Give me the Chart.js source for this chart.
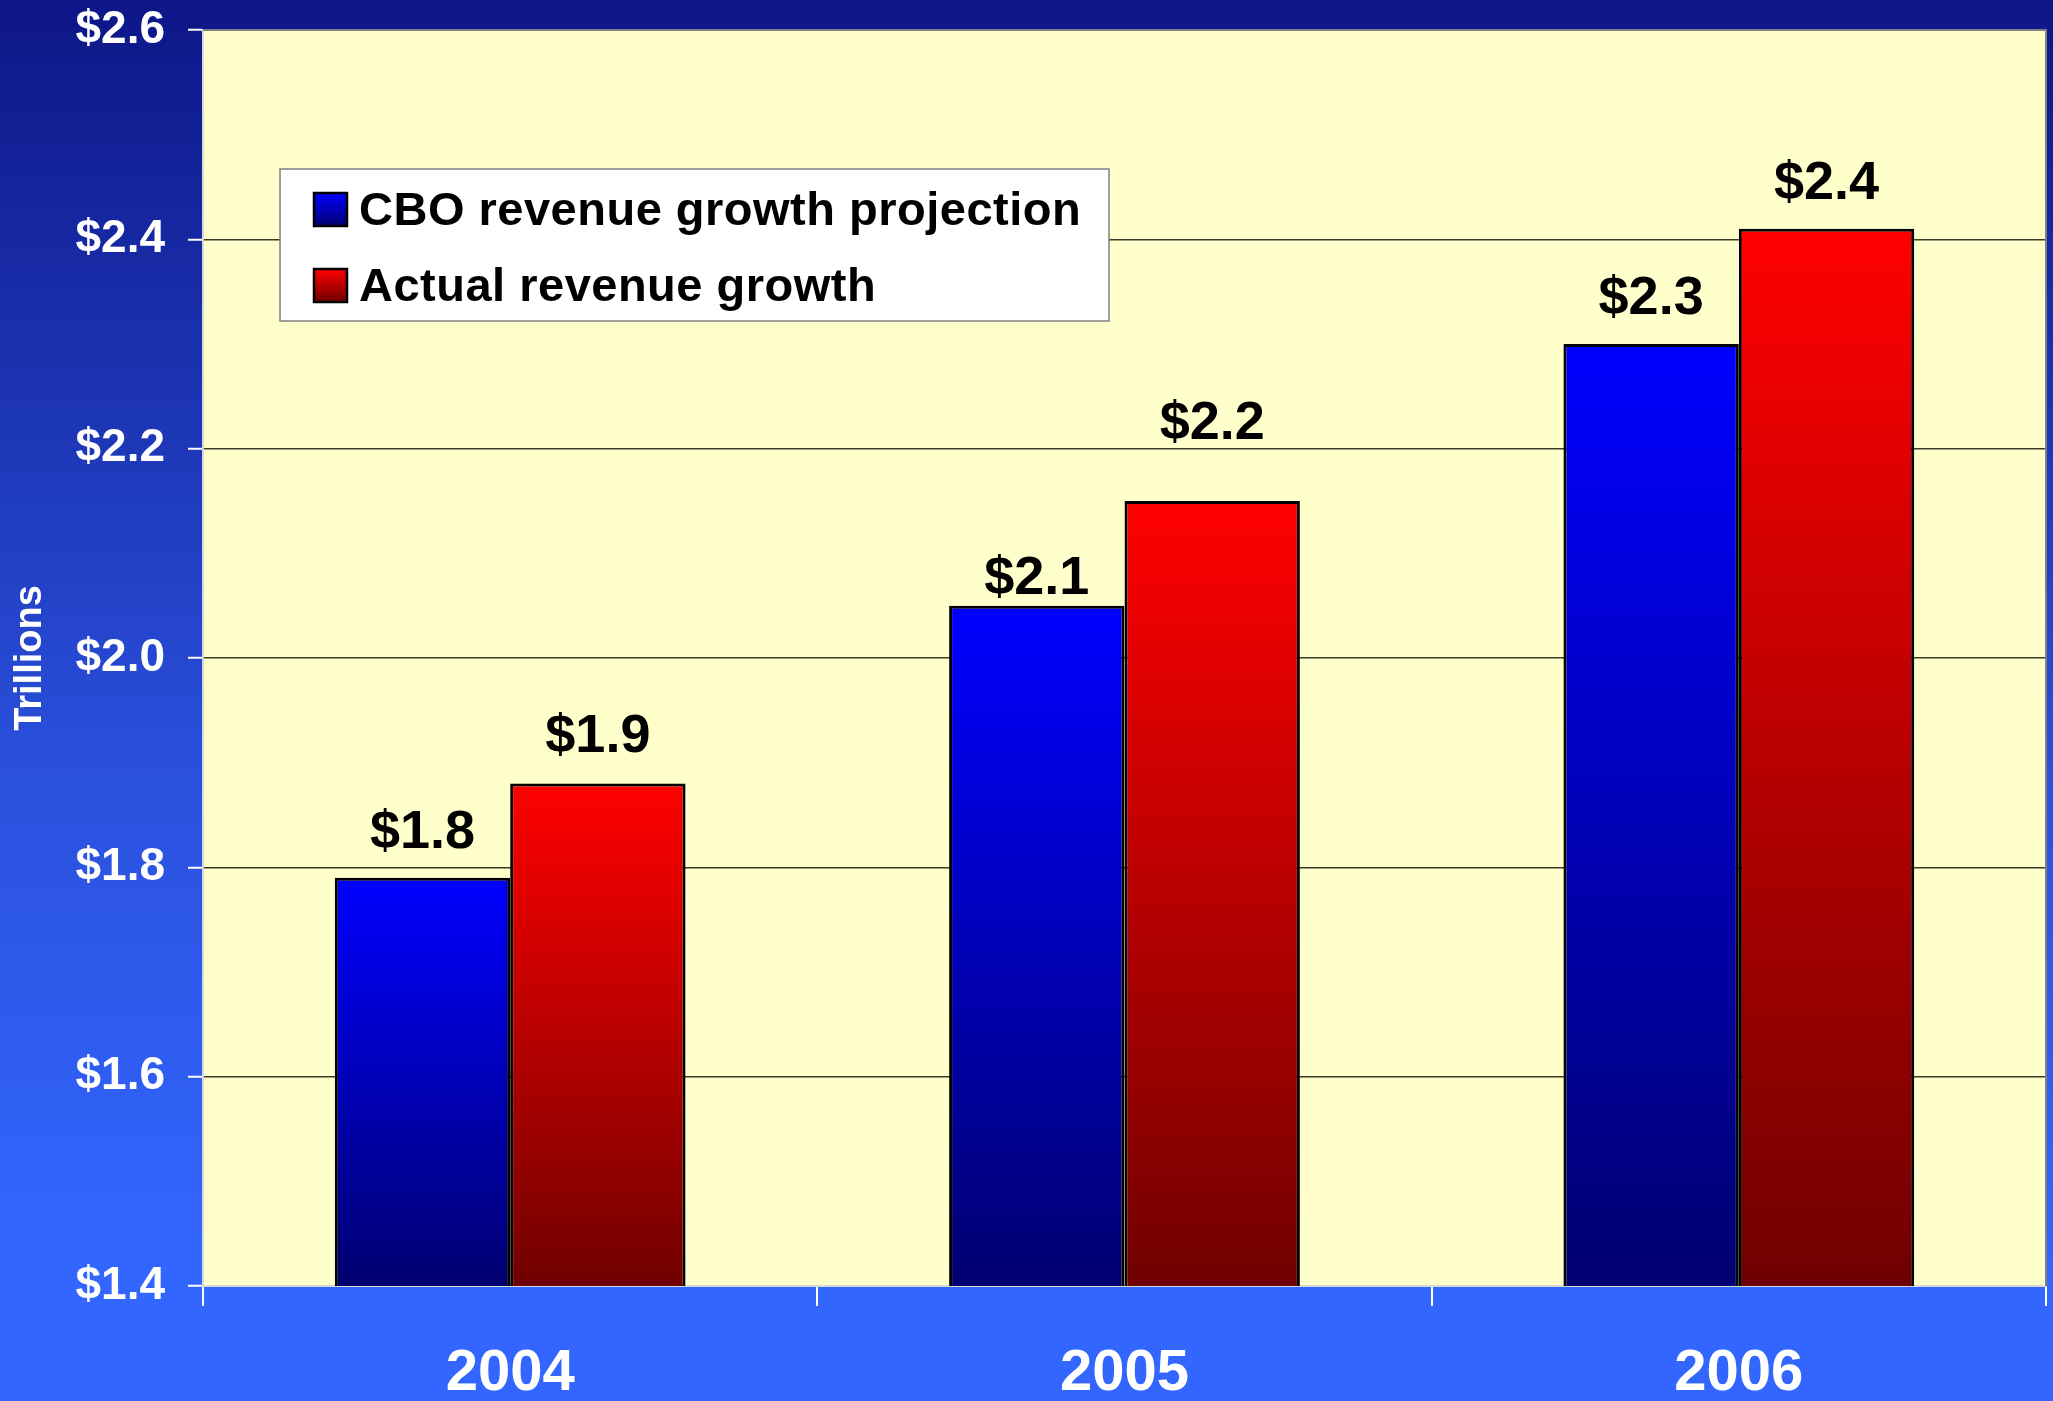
<!DOCTYPE html>
<html>
<head>
<meta charset="utf-8">
<title>CBO revenue projection vs actual</title>
<script src="https://cdn.jsdelivr.net/npm/chart.js@4.4.1/dist/chart.umd.min.js"></script>
<style>
    html, body {
        margin: 0;
        padding: 0;
    }
    body {
        width: 2053px;
        height: 1401px;
        overflow: hidden;
        background: linear-gradient(to bottom, #0d1687 0%, #2a50dc 55%, #3366ff 90%, #3366ff 100%);
    }
    #chart {
        display: block;
    }
</style>
</head>
<body>
<canvas id="chart" width="2053" height="1401"></canvas>
<script>
const FONT = '"Liberation Sans", Arial, sans-serif';

// data (trillions of dollars)
const years = ["2004", "2005", "2006"];
const cboProjection = [1.79, 2.05, 2.30];
const actualRevenue = [1.88, 2.15, 2.41];
const cboLabels = ["$1.8", "$2.1", "$2.3"];
const actualLabels = ["$1.9", "$2.2", "$2.4"];
const yTicks = [1.4, 1.6, 1.8, 2.0, 2.2, 2.4, 2.6];
const seriesNames = ["CBO revenue growth projection", "Actual revenue growth"];

// gap (px) between bar top and label baseline; the 2005 labels sit oddly in the original
const labelGaps = [[30, 12, 30], [32, 62, 30]];

// each bar gets its own top-to-bottom gradient
function barGradient(light, dark) {
    return (ctx) => {
        const chart = ctx.chart;
        const y = chart.scales.y;
        if (ctx.type !== "data" || !y || !chart.chartArea) return light;
        const top = y.getPixelForValue(ctx.raw);
        const bottom = y.getPixelForValue(y.min);
        const g = chart.ctx.createLinearGradient(0, top, 0, bottom);
        g.addColorStop(0, light);
        g.addColorStop(1, dark);
        return g;
    };
}

const plotArea = {
    id: "plotArea",
    beforeDraw(chart) {
        const { ctx, chartArea: a } = chart;
        ctx.save();
        ctx.fillStyle = "#ffffcc";
        ctx.fillRect(a.left, a.top, a.right - a.left, a.bottom - a.top);
        ctx.restore();
    },
    afterDraw(chart) {
        const { ctx, chartArea: a } = chart;
        ctx.save();
        ctx.strokeStyle = "#808080";
        ctx.lineWidth = 2;
        ctx.beginPath();
        ctx.moveTo(a.left, a.top);
        ctx.lineTo(a.right, a.top);
        ctx.lineTo(a.right, a.bottom);
        ctx.stroke();
        ctx.restore();
    }
};

const barLabels = {
    id: "barLabels",
    afterDatasetsDraw(chart) {
        const ctx = chart.ctx;
        const texts = [cboLabels, actualLabels];
        ctx.save();
        ctx.font = "bold 54px " + FONT;
        ctx.fillStyle = "#000";
        ctx.textAlign = "center";
        ctx.textBaseline = "alphabetic";
        chart.data.datasets.forEach((ds, i) => {
            chart.getDatasetMeta(i).data.forEach((bar, j) => {
                ctx.fillText(texts[i][j], bar.x, bar.y - labelGaps[i][j]);
            });
        });
        ctx.restore();
    }
};

const boxLegend = {
    id: "boxLegend",
    afterDraw(chart) {
        const ctx = chart.ctx;
        const swatches = [["#0000ff", "#000070"], ["#ff0000", "#700000"]];
        ctx.save();
        ctx.fillStyle = "#fff";
        ctx.fillRect(280, 169, 829, 152);
        ctx.strokeStyle = "#808080";
        ctx.lineWidth = 1.5;
        ctx.strokeRect(280, 169, 829, 152);

        chart.data.datasets.forEach((ds, i) => {
            const top = 193 + i * 76;
            const g = ctx.createLinearGradient(0, top, 0, top + 33);
            g.addColorStop(0, swatches[i][0]);
            g.addColorStop(1, swatches[i][1]);
            ctx.fillStyle = g;
            ctx.fillRect(314, top, 33, 33);
            ctx.strokeStyle = "#000";
            ctx.lineWidth = 2.5;
            ctx.strokeRect(314, top, 33, 33);

            ctx.fillStyle = "#000";
            ctx.font = "bold 47px " + FONT;
            ctx.letterSpacing = "0.5px";
            ctx.textAlign = "left";
            ctx.textBaseline = "alphabetic";
            ctx.fillText(ds.label, 359, top + 32);
        });
        ctx.restore();
    }
};

new Chart(document.getElementById("chart"), {
    type: "bar",
    data: {
        labels: years,
        datasets: [
            {
                label: seriesNames[0],
                data: cboProjection,
                backgroundColor: barGradient("#0000ff", "#000070"),
                borderColor: "#000",
                borderWidth: 3,
                borderSkipped: "bottom"
            },
            {
                label: seriesNames[1],
                data: actualRevenue,
                backgroundColor: barGradient("#ff0000", "#700000"),
                borderColor: "#000",
                borderWidth: 3,
                borderSkipped: "bottom"
            }
        ]
    },
    options: {
        responsive: false,
        animation: false,
        layout: { padding: { top: 30, right: 7, left: 0, bottom: 0 } },
        datasets: {
            bar: { categoryPercentage: 0.571, barPercentage: 1.0 }
        },
        plugins: {
            legend: { display: false },
            tooltip: { enabled: false }
        },
        scales: {
            x: {
                offset: true,
                grid: {
                    drawOnChartArea: false,
                    drawTicks: true,
                    tickLength: 20,
                    tickColor: "#ffffff",
                    lineWidth: 2,
                    offset: true
                },
                border: { color: "#d8d8d8", width: 2 },
                ticks: {
                    color: "#fff",
                    padding: 33,
                    font: { family: FONT, size: 58, weight: "bold" }
                },
                afterFit(scale) {
                    scale.height = 115;
                    scale.paddingLeft = 0;
                    scale.paddingRight = 0;
                }
            },
            y: {
                min: yTicks[0],
                max: yTicks[yTicks.length - 1],
                afterBuildTicks(scale) {
                    scale.ticks = yTicks.map(v => ({ value: v }));
                },
                grid: {
                    color: "#3a3a2a",
                    lineWidth: 1.5,
                    tickLength: 15,
                    tickColor: "#ffffff",
                    tickWidth: 2
                },
                border: { color: "#d8d8d8", width: 2 },
                ticks: {
                    color: "#fff",
                    padding: 23,
                    font: { family: FONT, size: 46, weight: "bold" },
                    callback: (v) => "$" + Number(v).toFixed(1)
                },
                title: {
                    display: true,
                    text: "Trillions",
                    color: "#fff",
                    padding: { top: 8, bottom: 0 },
                    font: { family: FONT, size: 38, weight: "bold" }
                },
                afterFit(scale) {
                    scale.width = 203;
                    scale.paddingTop = 0;
                    scale.paddingBottom = 0;
                }
            }
        }
    },
    plugins: [plotArea, barLabels, boxLegend]
});
</script>
</body>
</html>
